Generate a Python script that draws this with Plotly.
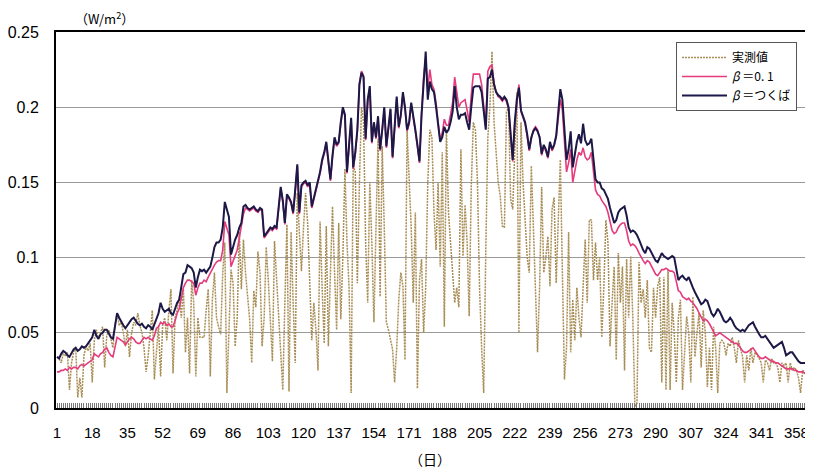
import plotly.graph_objects as go

days = list(range(1, 366))

tick_days = [1, 18, 35, 52, 69, 86, 103, 120, 137, 154, 171, 188, 205, 222, 239, 256, 273, 290, 307, 324, 341, 358]
y_ticks = [0, 0.05, 0.1, 0.15, 0.2, 0.25]
y_ticktext = ["0", "0.05", "0.1", "0.15", "0.2", "0.25"]

measured = [
    0.034, 0.033, 0.030, 0.036, 0.035, 0.037, 0.012, 0.030, 0.037, 0.041,
    0.007, 0.020, 0.007, 0.035, 0.041, 0.038, 0.043, 0.017, 0.045, 0.052,
    0.046, 0.050, 0.054, 0.027, 0.048, 0.052, 0.045, 0.040, 0.055, 0.063,
    0.055, 0.057, 0.050, 0.041, 0.052, 0.034, 0.050, 0.057, 0.055, 0.063,
    0.055, 0.050, 0.040, 0.024, 0.035, 0.050, 0.065, 0.019, 0.040, 0.055,
    0.021, 0.055, 0.060, 0.045, 0.065, 0.079, 0.023, 0.060, 0.065, 0.074,
    0.060, 0.080, 0.037, 0.060, 0.023, 0.085, 0.070, 0.021, 0.060, 0.047,
    0.047, 0.047, 0.065, 0.079, 0.021, 0.072, 0.090, 0.060, 0.054, 0.049,
    0.090, 0.110, 0.010, 0.060, 0.092, 0.083, 0.041, 0.060, 0.117, 0.079,
    0.112, 0.090, 0.075, 0.059, 0.030, 0.078, 0.067, 0.104, 0.090, 0.041,
    0.060, 0.107, 0.085, 0.060, 0.031, 0.111, 0.085, 0.060, 0.030, 0.012,
    0.070, 0.122, 0.011, 0.117, 0.070, 0.030, 0.143, 0.120, 0.091, 0.120,
    0.143, 0.123, 0.090, 0.045, 0.070, 0.052, 0.025, 0.124, 0.080, 0.043,
    0.121, 0.041, 0.090, 0.134, 0.090, 0.052, 0.123, 0.059, 0.100, 0.159,
    0.110, 0.080, 0.010, 0.161, 0.157, 0.083, 0.150, 0.200, 0.190, 0.110,
    0.070, 0.150, 0.110, 0.057, 0.120, 0.179, 0.074, 0.174, 0.120, 0.057,
    0.052, 0.045, 0.039, 0.017, 0.040, 0.072, 0.090, 0.081, 0.032, 0.185,
    0.152, 0.120, 0.070, 0.130, 0.013, 0.085, 0.099, 0.050, 0.080, 0.150,
    0.185, 0.180, 0.130, 0.105, 0.150, 0.094, 0.170, 0.054, 0.185, 0.130,
    0.110, 0.092, 0.070, 0.080, 0.067, 0.172, 0.101, 0.135, 0.110, 0.061,
    0.147, 0.190, 0.185, 0.150, 0.080, 0.040, 0.010, 0.103, 0.180, 0.200,
    0.237, 0.190, 0.170, 0.150, 0.141, 0.121, 0.120, 0.197, 0.200, 0.139,
    0.132, 0.170, 0.210, 0.050, 0.190, 0.150, 0.120, 0.100, 0.090, 0.161,
    0.120, 0.070, 0.037, 0.081, 0.147, 0.090, 0.100, 0.114, 0.081, 0.132,
    0.140, 0.083, 0.120, 0.165, 0.090, 0.019, 0.040, 0.117, 0.037, 0.072,
    0.045, 0.080, 0.060, 0.047, 0.080, 0.112, 0.070, 0.125, 0.125, 0.085,
    0.110, 0.085, 0.100, 0.047, 0.080, 0.125, 0.110, 0.041, 0.070, 0.094,
    0.032, 0.103, 0.070, 0.094, 0.025, 0.099, 0.060, 0.101, 0.060, 0.001,
    0.003, 0.097, 0.070, 0.079, 0.060, 0.085, 0.040, 0.037, 0.080, 0.060,
    0.081, 0.087, 0.017, 0.087, 0.012, 0.092, 0.012, 0.070, 0.050, 0.017,
    0.060, 0.072, 0.012, 0.040, 0.061, 0.050, 0.017, 0.074, 0.034, 0.050,
    0.063, 0.027, 0.065, 0.050, 0.014, 0.040, 0.012, 0.054, 0.040, 0.010,
    0.043, 0.045, 0.043, 0.035, 0.043, 0.041, 0.047, 0.040, 0.030, 0.045,
    0.040, 0.034, 0.017, 0.035, 0.025, 0.040, 0.030, 0.037, 0.035, 0.033,
    0.030, 0.017, 0.032, 0.030, 0.025, 0.033, 0.030, 0.030, 0.027, 0.017,
    0.030, 0.028, 0.030, 0.017, 0.030, 0.025, 0.027, 0.025, 0.020, 0.010,
    0.025, 0.024, 0.020, 0.007, 0.012,
]

beta_01 = [
    0.024, 0.024, 0.025, 0.025, 0.026, 0.025, 0.027, 0.026, 0.027, 0.027,
    0.026, 0.028, 0.029, 0.028, 0.029, 0.030, 0.031, 0.032, 0.036, 0.035,
    0.034, 0.036, 0.037, 0.039, 0.040, 0.037, 0.035, 0.034, 0.040, 0.047,
    0.046, 0.045, 0.044, 0.042, 0.044, 0.046, 0.047, 0.046, 0.044, 0.043,
    0.043, 0.045, 0.047, 0.046, 0.047, 0.046, 0.045, 0.048, 0.053, 0.054,
    0.057, 0.056, 0.057, 0.055, 0.056, 0.054, 0.054, 0.058, 0.063, 0.066,
    0.072, 0.080, 0.083, 0.085, 0.085, 0.084, 0.083, 0.075, 0.080, 0.083,
    0.083, 0.085, 0.084, 0.087, 0.090, 0.092, 0.095, 0.097, 0.098, 0.098,
    0.105, 0.124, 0.120, 0.115, 0.094, 0.098, 0.102, 0.105, 0.113, 0.121,
    0.129, 0.133, 0.132, 0.131, 0.132, 0.133, 0.131, 0.130, 0.132, 0.131,
    0.113, 0.115, 0.117, 0.119, 0.118, 0.120, 0.119, 0.134, 0.146, 0.137,
    0.122, 0.141, 0.139, 0.136, 0.129, 0.144, 0.161, 0.129, 0.147, 0.149,
    0.150, 0.147, 0.149, 0.133, 0.139, 0.144, 0.149, 0.156, 0.164, 0.169,
    0.176, 0.164, 0.151, 0.167, 0.179, 0.174, 0.176, 0.189, 0.199, 0.194,
    0.156, 0.174, 0.192, 0.159, 0.169, 0.184, 0.216, 0.224, 0.221, 0.178,
    0.204, 0.213, 0.176, 0.189, 0.179, 0.193, 0.171, 0.184, 0.199, 0.173,
    0.184, 0.198, 0.166, 0.189, 0.206, 0.186, 0.194, 0.209, 0.199, 0.184,
    0.189, 0.202, 0.194, 0.184, 0.174, 0.163, 0.196, 0.220, 0.232, 0.212,
    0.225, 0.215, 0.212, 0.203, 0.190, 0.178, 0.183, 0.192, 0.188, 0.188,
    0.195, 0.203, 0.220, 0.208, 0.200, 0.203, 0.204, 0.205, 0.198, 0.190,
    0.208, 0.222, 0.222, 0.222, 0.222, 0.215, 0.198, 0.187, 0.224, 0.227,
    0.228, 0.216, 0.210, 0.207, 0.206, 0.204, 0.206, 0.204, 0.199, 0.184,
    0.164, 0.189, 0.204, 0.215, 0.197, 0.193, 0.189, 0.181, 0.171, 0.179,
    0.185, 0.187, 0.185, 0.180, 0.168, 0.174, 0.171, 0.166, 0.176, 0.171,
    0.174, 0.180, 0.193, 0.205, 0.198, 0.177, 0.157, 0.163, 0.172, 0.150,
    0.158, 0.165, 0.170, 0.168, 0.173, 0.167, 0.165, 0.166, 0.170, 0.158,
    0.145, 0.142, 0.141, 0.138, 0.136, 0.134, 0.130, 0.124, 0.118, 0.116,
    0.117, 0.120, 0.122, 0.123, 0.123, 0.118, 0.111, 0.108, 0.109, 0.108,
    0.106, 0.103, 0.100, 0.098, 0.096, 0.098, 0.097, 0.094, 0.091, 0.089,
    0.088, 0.090, 0.092, 0.092, 0.093, 0.092, 0.091, 0.091, 0.090, 0.084,
    0.078, 0.077, 0.074, 0.073, 0.072, 0.073, 0.071, 0.070, 0.068, 0.066,
    0.063, 0.060, 0.058, 0.059, 0.058, 0.056, 0.053, 0.050, 0.048, 0.049,
    0.050, 0.049, 0.048, 0.047, 0.046, 0.045, 0.044, 0.043, 0.043, 0.042,
    0.040, 0.038, 0.037, 0.037, 0.038, 0.039, 0.040, 0.038, 0.036, 0.034,
    0.033, 0.033, 0.034, 0.033, 0.032, 0.031, 0.031, 0.030, 0.030, 0.029,
    0.028, 0.027, 0.026, 0.026, 0.026, 0.026, 0.025, 0.025, 0.024, 0.024,
    0.024, 0.023, 0.022, 0.021, 0.021,
]

beta_tsukuba = [
    0.034, 0.033, 0.036, 0.038, 0.037, 0.035, 0.034, 0.037, 0.039, 0.040,
    0.038, 0.039, 0.041, 0.040, 0.041, 0.043, 0.045, 0.047, 0.052, 0.048,
    0.046, 0.049, 0.050, 0.052, 0.052, 0.049, 0.047, 0.046, 0.055, 0.063,
    0.060, 0.057, 0.055, 0.053, 0.055, 0.057, 0.059, 0.060, 0.058, 0.056,
    0.055, 0.056, 0.054, 0.053, 0.055, 0.054, 0.052, 0.056, 0.059, 0.063,
    0.070, 0.066, 0.064, 0.065, 0.066, 0.063, 0.062, 0.066, 0.070, 0.072,
    0.080, 0.089, 0.090, 0.095, 0.094, 0.093, 0.090, 0.080, 0.087, 0.092,
    0.091, 0.092, 0.090, 0.092, 0.094, 0.100, 0.107, 0.110, 0.110, 0.112,
    0.120, 0.137, 0.132, 0.127, 0.102, 0.108, 0.112, 0.115, 0.120, 0.123,
    0.134, 0.135, 0.133, 0.132, 0.133, 0.134, 0.132, 0.131, 0.133, 0.132,
    0.114, 0.116, 0.118, 0.120, 0.119, 0.121, 0.120, 0.135, 0.147, 0.138,
    0.123, 0.142, 0.140, 0.137, 0.130, 0.145, 0.162, 0.130, 0.148, 0.150,
    0.151, 0.148, 0.150, 0.134, 0.140, 0.145, 0.150, 0.157, 0.165, 0.170,
    0.177, 0.165, 0.152, 0.168, 0.180, 0.175, 0.177, 0.190, 0.200, 0.195,
    0.157, 0.175, 0.193, 0.160, 0.170, 0.185, 0.215, 0.223, 0.220, 0.179,
    0.205, 0.214, 0.177, 0.190, 0.180, 0.194, 0.172, 0.185, 0.200, 0.174,
    0.185, 0.199, 0.167, 0.190, 0.207, 0.187, 0.195, 0.210, 0.200, 0.185,
    0.190, 0.203, 0.195, 0.185, 0.175, 0.164, 0.195, 0.215, 0.237, 0.205,
    0.217, 0.212, 0.210, 0.200, 0.190, 0.177, 0.180, 0.187, 0.183, 0.185,
    0.190, 0.197, 0.214, 0.200, 0.192, 0.195, 0.195, 0.196, 0.190, 0.185,
    0.200, 0.213, 0.214, 0.214, 0.214, 0.210, 0.195, 0.185, 0.219, 0.220,
    0.225, 0.215, 0.210, 0.208, 0.207, 0.205, 0.207, 0.205, 0.200, 0.185,
    0.165, 0.190, 0.205, 0.213, 0.198, 0.194, 0.190, 0.182, 0.172, 0.180,
    0.184, 0.186, 0.184, 0.180, 0.169, 0.175, 0.172, 0.167, 0.177, 0.172,
    0.175, 0.181, 0.195, 0.212, 0.205, 0.185, 0.165, 0.172, 0.184, 0.160,
    0.170, 0.177, 0.182, 0.176, 0.189, 0.178, 0.175, 0.176, 0.179, 0.165,
    0.152, 0.150, 0.150, 0.146, 0.145, 0.142, 0.139, 0.133, 0.127, 0.123,
    0.125, 0.130, 0.132, 0.133, 0.134, 0.128, 0.120, 0.117, 0.118, 0.117,
    0.115, 0.112, 0.108, 0.105, 0.103, 0.107, 0.106, 0.103, 0.100, 0.098,
    0.097, 0.100, 0.103, 0.101, 0.100, 0.099, 0.100, 0.101, 0.100, 0.092,
    0.085, 0.087, 0.088, 0.086, 0.085, 0.087, 0.083, 0.080, 0.077, 0.074,
    0.071, 0.069, 0.070, 0.072, 0.071, 0.067, 0.063, 0.061, 0.063, 0.066,
    0.064, 0.061, 0.058, 0.057, 0.058, 0.060, 0.058, 0.055, 0.053, 0.052,
    0.051, 0.052, 0.051, 0.053, 0.055, 0.056, 0.057, 0.054, 0.051, 0.049,
    0.047, 0.047, 0.048, 0.046, 0.044, 0.042, 0.040, 0.041, 0.042, 0.043,
    0.044, 0.040, 0.035, 0.036, 0.037, 0.037, 0.035, 0.033, 0.031, 0.030,
    0.030, 0.030, 0.029, 0.029, 0.029,
]

assert len(measured) == 365 and len(beta_01) == 365 and len(beta_tsukuba) == 365

FONT = "Liberation Sans, Arial, sans-serif"
JP = "Noto Sans CJK JP, sans-serif"

# the page body adds an 8px offset; figure is laid out to compensate
W, H = 805, 462
ML, MR, MT, MB = 48, 0, 24, 62
PW, PH = W - ML - MR, H - MT - MB


def px_to_paper(x, y):
    return (x - ML) / PW, (H - MB - y) / PH


fig = go.Figure()
fig.add_trace(go.Scatter(x=days, y=measured, mode="lines", name="実測値",
                         line=dict(color="#A88D55", width=1.5, dash="2px,1px")))
fig.add_trace(go.Scatter(x=days, y=beta_01, mode="lines", name="<i>β</i> ＝0.\u00a01",
                         line=dict(color="#E43C7C", width=1.6)))
fig.add_trace(go.Scatter(x=days, y=beta_tsukuba, mode="lines", name="<i>β</i> ＝つくば",
                         line=dict(color="#1C1848", width=2)))

ux, uy = px_to_paper(96, 10)
dx, dy = px_to_paper(422, 451)
lx, ly = px_to_paper(789, 34)

fig.update_layout(
    width=W, height=H,
    margin=dict(l=ML, r=MR, t=MT, b=MB, autoexpand=False),
    paper_bgcolor="white", plot_bgcolor="white",
    font=dict(family=FONT, size=16, color="black"),
    showlegend=True,
    legend=dict(x=lx, y=ly, xanchor="right", yanchor="top",
                bgcolor="white", bordercolor="#555", borderwidth=1,
                font=dict(family=JP, size=12, color="black"),
                tracegroupgap=0, itemwidth=45),
    xaxis=dict(
        range=[0.5, 366], tickmode="array", tickvals=tick_days,
        ticktext=[str(d) for d in tick_days], ticks="", showgrid=False,
        showline=True, linecolor="black", linewidth=2, mirror=True,
        ticklabelstandoff=10, zeroline=False, automargin=False,
        tickfont=dict(size=15),
        minor=dict(ticks="inside", dtick=1, tick0=1, ticklen=5,
                   tickcolor="#777", tickwidth=1, showgrid=False),
    ),
    yaxis=dict(
        range=[0, 0.25], tickmode="array", tickvals=y_ticks, ticktext=y_ticktext,
        showgrid=True, gridcolor="#9a9a9a", gridwidth=1, ticks="",
        showline=True, linecolor="black", linewidth=2, zeroline=False,
        ticklabelstandoff=12, automargin=False,
    ),
    annotations=[
        dict(text="（W/m<sup>2</sup>）", x=ux, y=uy, xref="paper", yref="paper",
             xanchor="center", yanchor="middle", showarrow=False,
             font=dict(family=JP, size=13)),
        dict(text="（日）", x=dx, y=dy, xref="paper", yref="paper",
             xanchor="center", yanchor="middle", showarrow=False,
             font=dict(family=JP, size=14)),
    ],
)

fig.write_html("out.html")
